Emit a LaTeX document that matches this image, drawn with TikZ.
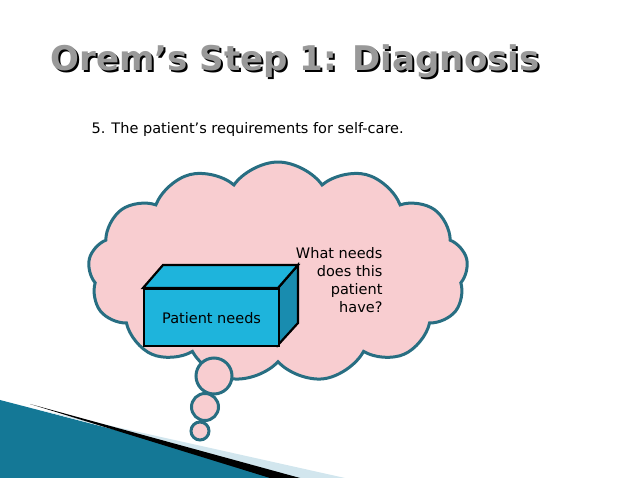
\documentclass[tikz,border=0pt]{standalone}
\usepackage{fontspec}
\setmainfont{DejaVu Sans}
\usetikzlibrary{shapes.symbols,positioning}
\definecolor{cloudpink}{RGB}{248,205,208}
\definecolor{cloudline}{RGB}{40,110,130}
\definecolor{boxcyan}{RGB}{30,180,220}
\definecolor{boxside}{RGB}{25,140,175}
\definecolor{wedge}{RGB}{20,120,150}
\definecolor{stripe}{RGB}{210,230,238}
\tikzset{
	puff/.style={fill=cloudpink, draw=cloudline, line width=3pt},
	boxface/.style={draw=black, line width=2.2pt, line join=miter},
	titlefont/.style={font=\fontsize{34}{40}\selectfont\bfseries},
	bodyfont/.style={font=\fontsize{14.5}{18}\selectfont}
}
\begin{document}
\begin{tikzpicture}[x=1pt,y=-1pt]
	\useasboundingbox (0,0) rectangle (638,478);
	% title with shadow
	\node[titlefont, text=black] at (297,63) {Orem’s Step 1: Diagnosis};
	\node[titlefont, text=gray!80] (title) at (295,61) {Orem’s Step 1: Diagnosis};
	\node[bodyfont, anchor=west] (req) at (88,130) {5. The patient’s requirements for self-care.};
	% decoration
	\fill[wedge] (0,400) -- (300,478) -- (0,478) -- cycle;
	\fill[stripe] (40,410) -- (345,478) -- (300,478) -- cycle;
	\fill[black] (30,404) -- (300,478) -- (270,478) -- cycle;
	% cloud
	\node[puff, cloud, cloud puffs=13, cloud puff arc=110, aspect=1.65,
		minimum width=380, minimum height=220] (cloud) at (278,272) {};
	\node[puff, circle, minimum size=36] (b1) at (214,376) {};
	\node[puff, circle, minimum size=27] (b2) at (205,407) {};
	\node[puff, circle, minimum size=18] (b3) at (200,431) {};
	% box
	\fill[boxside, boxface] (278,288) -- (298,265) -- (298,323) -- (278,345) -- cycle;
	\fill[boxcyan, boxface] (143,288) -- (163,265) -- (298,265) -- (278,288) -- cycle;
	\node[boxface, fill=boxcyan, bodyfont, minimum width=135, minimum height=57,
		anchor=north west, inner sep=0pt] (box) at (143,288) {Patient needs};
	\node[bodyfont, align=right, anchor=north east] (ask) at (386,244)
		{What needs\\does this\\patient\\have?};
\end{tikzpicture}
\end{document}
